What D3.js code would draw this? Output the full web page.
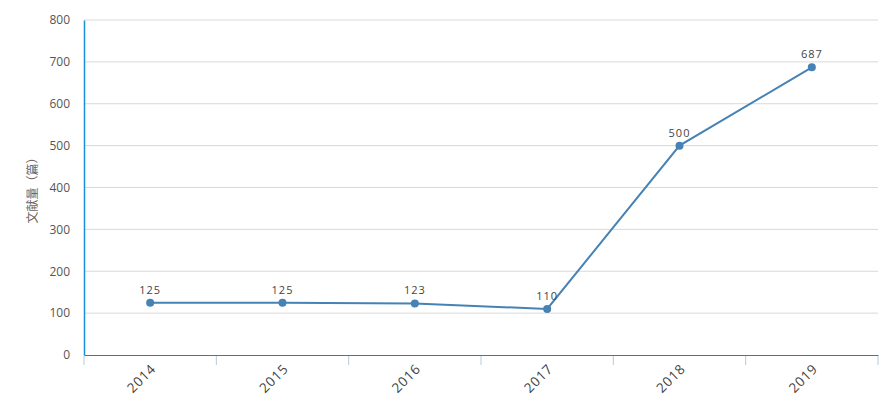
<!DOCTYPE html>
<html><head><meta charset="utf-8">
<script src="https://cdn.jsdelivr.net/npm/d3@7/dist/d3.min.js"></script>
<style>body{margin:0;background:#fff;}svg{display:block;}</style>
</head><body><svg id="c" width="895" height="418"></svg>
<script>
const categories = ["2014","2015","2016","2017","2018","2019"];
const values = [125,125,123,110,500,687];
const yTicks = [0,100,200,300,400,500,600,700,800];
const yTitle = "文献量（篇）";

const svg = d3.select("#c");
const m = {l:84, r:878, t:20, b:355};
const x = d3.scaleBand().domain(categories).range([m.l, m.r]);
const y = d3.scaleLinear().domain([0,800]).range([m.b, m.t]);
const font = "'Open Sans','Noto Sans CJK SC',sans-serif";

// gridlines
svg.append("g").selectAll("line").data(yTicks.filter(d=>d>0)).join("line")
  .attr("x1", m.l).attr("x2", m.r).attr("y1", d=>y(d)).attr("y2", d=>y(d))
  .attr("stroke", "#d9d9d9").attr("stroke-width", 1);

// y axis
const ya = svg.append("g").attr("transform", `translate(${m.l},0)`)
  .call(d3.axisLeft(y).tickValues(yTicks).tickSize(0).tickPadding(14));
ya.select(".domain").attr("stroke", "#1a8fd8").attr("stroke-width", 1.5);
ya.selectAll("text").attr("font-family", font).attr("font-size", 12).attr("fill", "#555");

// x axis
const xa = svg.append("g").attr("transform", `translate(0,${m.b})`)
  .call(d3.axisBottom(x).tickSize(0).tickPadding(0));
xa.select(".domain").attr("stroke", "#2f7fad").attr("stroke-width", 1.2);
xa.selectAll(".tick text").remove();
// boundary ticks
const bounds = categories.map(c=>x(c)).concat([x(categories[categories.length-1])+x.bandwidth()]);
svg.append("g").selectAll("line").data(bounds).join("line")
  .attr("x1", d=>d).attr("x2", d=>d).attr("y1", m.b+1).attr("y2", m.b+10)
  .attr("stroke", "#b8c8d8").attr("stroke-width", 1);
// x labels
svg.append("g").selectAll("text").data(categories).join("text")
  .attr("transform", d=>`translate(${x(d)+x.bandwidth()/2},${m.b+8}) rotate(-45)`)
  .attr("text-anchor", "end").attr("dy", "0.7em")
  .attr("font-family", font).attr("font-size", 13.5).attr("letter-spacing", "0.8px").attr("fill", "#444")
  .text(d=>d);

// y title
svg.append("text").attr("transform", `translate(37,${(m.t+m.b)/2}) rotate(-90)`)
  .attr("text-anchor", "middle").attr("font-family", font).attr("font-size", 12).attr("fill", "#666")
  .text(yTitle);

// line
const cx = d=>x(d)+x.bandwidth()/2;
svg.append("path").datum(values)
  .attr("d", d3.line().x((d,i)=>cx(categories[i])).y(d=>y(d)))
  .attr("fill", "none").attr("stroke", "#4682b4").attr("stroke-width", 2);
svg.append("g").selectAll("circle").data(values).join("circle")
  .attr("cx", (d,i)=>cx(categories[i])).attr("cy", d=>y(d)).attr("r", 4)
  .attr("fill", "#4682b4");
svg.append("g").selectAll("text").data(values).join("text")
  .attr("x", (d,i)=>cx(categories[i])).attr("y", d=>y(d)-9)
  .attr("text-anchor", "middle").attr("font-family", font).attr("font-size", 11)
  .attr("letter-spacing", "1px").attr("fill", "#444").text(d=>d);
</script></body></html>
